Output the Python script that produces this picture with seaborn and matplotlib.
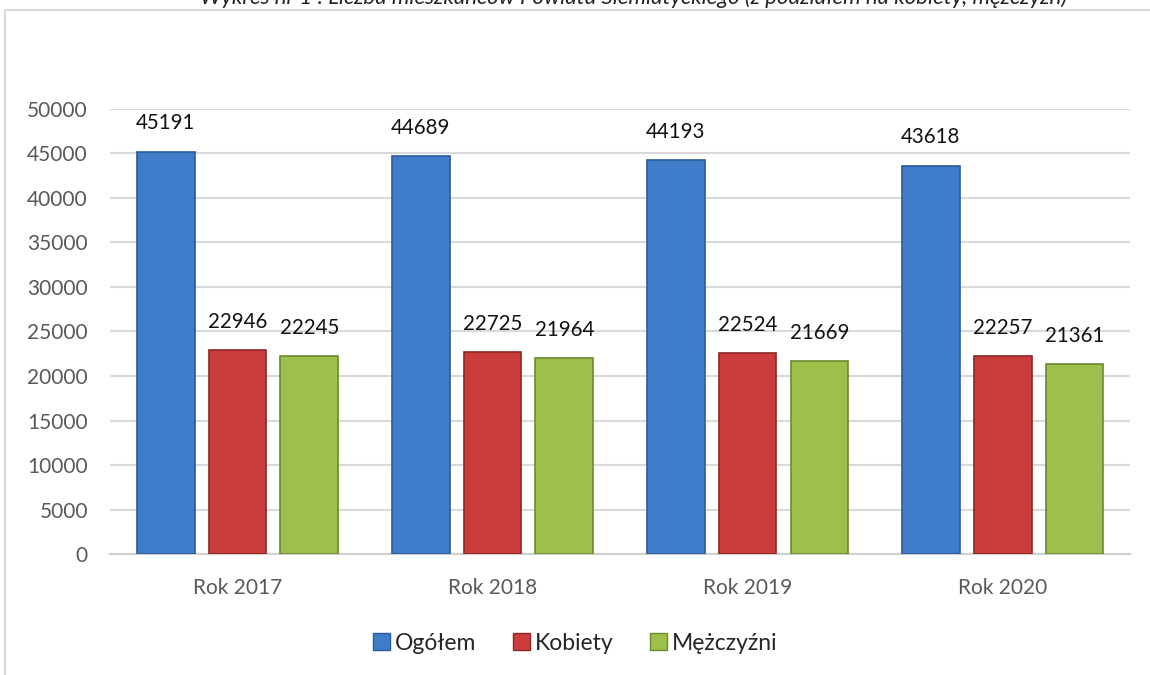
import pandas as pd
import numpy as np
import matplotlib
matplotlib.use("Agg")
import matplotlib.pyplot as plt
import seaborn as sns
from matplotlib.patches import Rectangle

years = ["Rok 2017", "Rok 2018", "Rok 2019", "Rok 2020"]
series = ["Ogółem", "Kobiety", "Mężczyźni"]
ogolem = [45191, 44689, 44193, 43618]
kobiety = [22946, 22725, 22524, 22257]
mezczyzni = [22245, 21964, 21669, 21361]
yticks = [0, 5000, 10000, 15000, 20000, 25000, 30000, 35000, 40000, 45000, 50000]
title = "Wykres nr 1 : Liczba mieszkańców Powiatu Siemiatyckiego (z podziałem na kobiety, mężczyzn)"

df = pd.DataFrame({
    "Rok": years * 3,
    "Grupa": [s for s in series for _ in years],
    "Liczba": ogolem + kobiety + mezczyzni,
})

sns.set_style("white")
plt.rcParams["font.family"] = ["Lato", "DejaVu Sans"]

palette = {"Ogółem": "#3F7DCB", "Kobiety": "#CB3D3D", "Mężczyźni": "#9CC04B"}
edges = {"Ogółem": "#2B5A98", "Kobiety": "#8E2626", "Mężczyźni": "#6A8A2C"}

fig = plt.figure(figsize=(11.5, 6.75), dpi=100)
ax = fig.add_axes([0.0957, 0.179, 0.887, 0.66])

# chart frame
fig.patches.append(Rectangle((0.004, -0.05), 1.2, 1.035, transform=fig.transFigure,
                             fill=False, edgecolor="#D9D9D9", linewidth=1.5))

sns.barplot(data=df, x="Rok", y="Liczba", hue="Grupa", palette=palette,
            saturation=1, width=0.845, gap=0.195, ax=ax, legend=False, zorder=3)

for cont, name in zip(ax.containers, series):
    for bar in cont:
        bar.set_edgecolor(edges[name])
        bar.set_linewidth(1.2)
    ax.bar_label(cont, fmt="%d", padding=13, fontsize=14.8, color="#111111")

ax.set_ylim(0, 50000)
ax.set_xlim(-0.5, 3.5)
ax.set_yticks(yticks)
ax.set_yticklabels([str(v) for v in yticks])
ax.yaxis.grid(True, color="#D9D9D9", linewidth=1.5, zorder=0)
ax.set_axisbelow(True)
for s in ["top", "right", "left"]:
    ax.spines[s].set_visible(False)
ax.spines["bottom"].set_color("#D0D0D0")
ax.spines["bottom"].set_linewidth(1.5)
ax.tick_params(axis="y", length=0, pad=16, labelsize=15, labelcolor="#595959")
ax.tick_params(axis="x", length=0, pad=17, labelsize=15, labelcolor="#595959")
ax.set_xlabel("")
ax.set_ylabel("")

handles = [Rectangle((0, 0), 1, 1, facecolor=palette[s], edgecolor=edges[s]) for s in series]
fig.legend(handles, series, loc="center", bbox_to_anchor=(0.5, 0.047), ncol=3,
           frameon=False, fontsize=16.5, handlelength=0.75, handleheight=0.75,
           handletextpad=0.2, columnspacing=1.6)

fig.text(0.551, 1.003, title, ha="center", va="center", fontsize=16,
         style="italic", color="#222222")

fig.savefig("out.png", dpi=100)
